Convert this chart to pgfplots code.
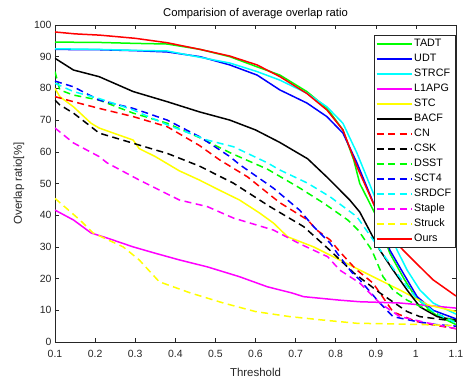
\documentclass[border=0pt]{standalone}
\usepackage{pgfplots}
\pgfplotsset{compat=1.18}
\usepackage{fontspec}
\setmainfont{Liberation Sans}
\definecolor{axgray}{rgb}{0.15,0.15,0.15}
\definecolor{mgreen}{rgb}{0,1,0}
\definecolor{mblue}{rgb}{0,0,1}
\definecolor{mcyan}{rgb}{0,1,1}
\definecolor{mmag}{rgb}{1,0,1}
\definecolor{myel}{rgb}{1,1,0}
\definecolor{mred}{rgb}{1,0,0}
\pgfplotsset{
  legend image code/.code={\draw[#1, line width=2bp] (0bp,0bp) -- (17.5bp,0bp) -- (35bp,0bp);},
  dashsty/.style={dash pattern=on 7bp off 4.5bp},
}
\begin{document}
\begin{tikzpicture}
\path[use as bounding box] (-55bp,-40bp) rectangle (408bp,342bp);
\begin{axis}[
  at={(0,0)}, anchor=south west,
  scale only axis, width=401bp, height=317bp,
  xmin=0.1, xmax=1.1, ymin=0, ymax=100,
  xtick={0.1,0.2,0.3,0.4,0.5,0.6,0.7,0.8,0.9,1,1.1},
  xticklabels={0.1,0.2,0.3,0.4,0.5,0.6,0.7,0.8,0.9,1,1.1},
  ytick={0,10,20,30,40,50,60,70,80,90,100},
  tick align=inside, tick pos=both,
  major tick length=4bp,
  axis line style={axgray, line width=0.5pt},
  every tick/.style={axgray, line width=0.5pt},
  tick label style={font=\fontsize{10.5}{12}\selectfont, text=axgray},
  xticklabel style={yshift=-4.5bp},
  /pgf/number format/assume math mode=true,
  title={Comparision of average overlap ratio},
  title style={font=\fontsize{11.3}{13}\selectfont, text=black, yshift=-3bp},
  xlabel={Threshold}, ylabel={Overlap ratio[\%]},
  label style={font=\fontsize{11.5}{13}\selectfont, text=axgray},
  xlabel style={yshift=-4bp},
  ylabel style={yshift=3bp},
  every axis plot/.append style={line width=1.5bp},
  legend cell align=left,
  legend style={at={(0.9975,0.968)}, anchor=north east, draw=axgray, fill=white,
    font=\fontsize{10.8}{12}\selectfont, row sep=2bp,
    nodes={inner sep=1.5bp, text height=8bp, text depth=2bp},
    inner xsep=2bp, inner ysep=2bp},
]
\addplot[color=mgreen] coordinates {(0.1,94.6)(0.21,94.5)(0.3,94.2)(0.38,94.0)(0.462,92.3)(0.536,90)(0.604,86.8)(0.661,84.2)(0.728,79)(0.778,73.8)(0.818,66.9)(0.845,57.4)(0.86,50)(0.9,40)(0.935,28)(0.97,20)(1.0,14)(1.05,8.5)(1.1,5.5)};
\addlegendentry{TADT}
\addplot[color=mblue] coordinates {(0.1,92.3)(0.21,92.2)(0.3,91.9)(0.38,91.5)(0.462,90)(0.536,87.4)(0.604,84.2)(0.661,79.5)(0.728,75.4)(0.778,71.1)(0.818,65.9)(0.853,56.5)(0.9,42)(0.935,29)(0.968,21.8)(1.003,14.3)(1.043,10)(1.1,7.3)};
\addlegendentry{UDT}
\addplot[color=mcyan] coordinates {(0.1,92.5)(0.21,92.3)(0.3,92)(0.38,91.8)(0.462,89.8)(0.536,88)(0.604,85.3)(0.661,82.6)(0.728,78.5)(0.778,74.2)(0.818,69)(0.853,59.6)(0.9,45)(0.953,29)(0.978,22.7)(1.01,16.4)(1.043,12.3)(1.1,8.8)};
\addlegendentry{STRCF}
\addplot[color=mmag] coordinates {(0.1,41.6)(0.146,38.5)(0.19,34.4)(0.23,32.8)(0.295,30)(0.35,28)(0.41,25.9)(0.48,23.7)(0.56,20.6)(0.63,17.4)(0.69,15.5)(0.72,14.3)(0.81,13.2)(0.86,12.7)(0.96,12.3)(1.1,10.7)};
\addlegendentry{L1APG}
\addplot[color=myel] coordinates {(0.1,80)(0.112,77.4)(0.146,74.2)(0.19,69)(0.21,67.5)(0.295,63.7)(0.31,61)(0.35,58.5)(0.41,54)(0.46,51.1)(0.51,47.9)(0.56,44.8)(0.61,40.7)(0.645,37.5)(0.68,33.2)(0.745,30)(0.81,25.9)(0.86,22.7)(0.893,20.6)(0.96,16.4)(1.03,11.7)(1.1,9.6)};
\addlegendentry{STC}
\addplot[color=black] coordinates {(0.1,89.5)(0.146,85.8)(0.21,83.7)(0.295,79)(0.38,75.8)(0.46,72.6)(0.536,70)(0.6,66.9)(0.66,63)(0.73,57.8)(0.78,51.8)(0.835,44.8)(0.86,41)(0.91,29)(0.943,22.7)(0.978,16.4)(1.01,11.1)(1.053,8)(1.1,6.9)};
\addlegendentry{BACF}
\addplot[color=mred, dashsty] coordinates {(0.1,77.4)(0.146,75.8)(0.21,73.7)(0.295,71.1)(0.38,67.9)(0.46,62)(0.51,57.5)(0.58,52.1)(0.66,44)(0.73,38.5)(0.753,35.3)(0.786,32.2)(0.81,28.5)(0.85,23)(0.893,18.6)(0.943,9.5)(1.0,6.5)(1.043,5.4)(1.1,4.2)};
\addlegendentry{CN}
\addplot[color=black, dashsty] coordinates {(0.1,76.3)(0.112,74.8)(0.146,72.2)(0.19,67.9)(0.21,65.9)(0.295,62.7)(0.35,60.6)(0.38,59.5)(0.46,55.5)(0.545,50.1)(0.636,42.7)(0.72,36.4)(0.785,29)(0.845,21.8)(0.91,15.5)(0.978,9.6)(1.01,8)(1.077,6.9)(1.1,6.5)};
\addlegendentry{CSK}
\addplot[color=mgreen, dashsty] coordinates {(0.1,85.3)(0.112,79.5)(0.146,77.9)(0.21,76.3)(0.295,72.2)(0.38,69)(0.46,64.5)(0.54,59.5)(0.63,54.5)(0.71,48.6)(0.77,43.8)(0.83,38.5)(0.856,35.3)(0.89,29)(0.918,20.6)(0.943,16.4)(0.978,13.2)(1.05,9)(1.1,6.4)};
\addlegendentry{DSST}
\addplot[color=mblue, dashsty] coordinates {(0.1,82.3)(0.146,80.5)(0.21,76.3)(0.295,73.7)(0.38,70)(0.46,64.8)(0.536,58.5)(0.56,56)(0.645,48.5)(0.71,41.6)(0.745,36.4)(0.786,31.2)(0.81,26.9)(0.84,22)(0.86,19.6)(0.91,12.3)(0.943,8)(1.0,6.5)(1.05,5.5)(1.1,5)};
\addlegendentry{SCT4}
\addplot[color=mcyan, dashsty] coordinates {(0.1,81.6)(0.146,79)(0.21,76.8)(0.295,73.2)(0.38,68.5)(0.48,63.7)(0.545,61.6)(0.63,56.5)(0.66,54.3)(0.73,50.1)(0.786,45.8)(0.853,39.5)(0.9,31)(0.95,22)(1.0,14)(1.05,9)(1.1,6)};
\addlegendentry{SRDCF}
\addplot[color=mmag, dashsty] coordinates {(0.1,67.5)(0.146,62.8)(0.21,58.5)(0.23,56.5)(0.31,51.1)(0.41,44.8)(0.48,42.7)(0.545,39.1)(0.645,35.3)(0.71,31)(0.78,26.9)(0.81,22.7)(0.86,18.6)(0.91,12.3)(0.96,8)(1.03,6)(1.1,4.2)};
\addlegendentry{Staple}
\addplot[color=myel, dashsty] coordinates {(0.1,45.3)(0.162,38.5)(0.195,34.4)(0.27,30)(0.31,25.9)(0.36,19)(0.437,15.5)(0.52,12.3)(0.6,9.6)(0.686,8)(0.77,6.9)(0.853,5.9)(0.95,5.7)(1.1,5.2)};
\addlegendentry{Struck}
\addplot[color=mred] coordinates {(0.1,97.8)(0.15,97.2)(0.212,96.8)(0.3,95.8)(0.38,94.4)(0.462,92.3)(0.536,90.2)(0.604,87.4)(0.661,83.7)(0.728,78.4)(0.778,73.2)(0.818,66.9)(0.853,55.3)(0.9,42)(0.94,33)(0.968,29)(1.01,23.7)(1.043,19.6)(1.1,14.5)};
\addlegendentry{Ours}
\end{axis}
\end{tikzpicture}
\end{document}
